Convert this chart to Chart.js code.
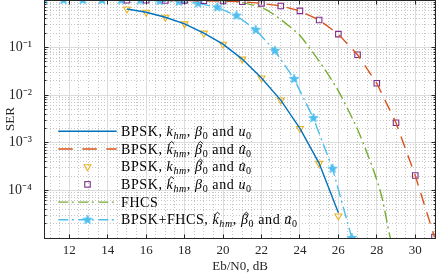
<!DOCTYPE html>
<html><head><meta charset="utf-8">
<style>html,body{margin:0;padding:0;background:#fff}#wrap{width:436px;height:273px;position:relative}</style>
<script src="https://cdn.jsdelivr.net/npm/chart.js@4.4.0/dist/chart.umd.min.js"></script>
</head><body><div id="wrap"><canvas id="c" width="436" height="273"></canvas></div>
<script>
// ---------- data ----------
const xTickValues = [12, 14, 16, 18, 20, 22, 24, 26, 28, 30];
const yTickValues = [1e-4, 1e-3, 1e-2, 1e-1];
const yTickLabels = ['10⁻⁴', '10⁻³', '10⁻²', '10⁻¹'];
const xTitle = 'Eb/N0, dB';
const yTitle = 'SER';

const snrBPSK = [15, 16, 17, 18, 19, 20, 21, 22, 23, 24, 25, 26];
const serBPSKTheory = [0.648, 0.552, 0.434, 0.315, 0.201, 0.118, 0.0574, 0.0230, 0.0079, 0.00200, 3.7e-4, 3.4e-5];
const serBPSKSim = [0.648, 0.552, 0.434, 0.315, 0.201, 0.118, 0.0574, 0.0230, 0.0079, 0.00200, 3.7e-4, 2.9e-5];

const snrEst = [15, 16, 17, 18, 19, 20, 21, 22, 23, 24, 25, 26, 27, 28, 29, 30, 31];
const serEstTheory = [0.99, 0.985, 0.98, 0.975, 0.965, 0.95, 0.92, 0.85, 0.75, 0.59, 0.38, 0.192, 0.0707, 0.0178, 0.00263, 2.05e-4, 1.05e-5];
const serEstSim = [0.99, 0.985, 0.98, 0.975, 0.965, 0.95, 0.92, 0.85, 0.75, 0.59, 0.38, 0.192, 0.0707, 0.0178, 0.00263, 2.05e-4, 1.05e-5];

const snrFHCS = [10.7, 12, 14, 16, 18, 19, 20, 20.5, 21, 21.5, 22, 22.5, 23, 23.5, 24, 24.5, 25, 25.5, 26, 26.5, 27, 27.5, 28, 28.3, 28.5, 28.75];
const serFHCS = [0.999, 0.999, 0.998, 0.996, 0.99, 0.982, 0.965, 0.935, 0.88, 0.79, 0.69, 0.54, 0.39, 0.27, 0.18, 0.098, 0.052, 0.026, 0.0123, 0.0050, 0.0019, 6.0e-4, 1.66e-4, 6.3e-5, 2.5e-5, 8e-6];

const snrComb = [10.7, 11.7, 12.7, 13.7, 14.7, 15.7, 16.7, 17.7, 18.7, 19.7, 20.7, 21.7, 22.7, 23.7, 24.7, 25.7, 26.7];
const serComb = [0.998, 0.997, 0.996, 0.994, 0.99, 0.98, 0.955, 0.92, 0.85, 0.70, 0.47, 0.236, 0.0857, 0.0219, 0.0033, 2.85e-4, 1.0e-5];

// legend labels as rich segments
const N = t => ({t}), I = (t, hat) => ({t, it: true, hat: !!hat}), S = (t, it) => ({t, sub: true, it: !!it});
const legendLabels = [
  [N('BPSK, '), I('k'), S('hm', 1), N(', '), I('β'), S('0'), N(' and '), I('u'), S('0')],
  [N('BPSK, '), I('k', 1), S('hm', 1), N(', '), I('β', 1), S('0'), N(' and '), I('u', 1), S('0')],
  [N('BPSK, '), I('k'), S('hm', 1), N(', '), I('β', 1), S('0'), N(' and '), I('u', 1), S('0')],
  [N('BPSK, '), I('k', 1), S('hm', 1), N(', '), I('β'), S('0'), N(' and '), I('u'), S('0')],
  [N('FHCS')],
  [N('BPSK+FHCS, '), I('k', 1), S('hm', 1), N(', '), I('β', 1), S('0'), N(' and '), I('u', 1), S('0')]
];

// ---------- styles ----------
const C = {blue:'#0072BD', red:'#D95319', yellow:'#EDB120', purple:'#7E2F8E', green:'#77AC30', cyan:'#4DBEEE'};
const AX = '#262626';
const FONT = '"Liberation Serif", "Times New Roman", serif';

function makeStar(r, color) {
  const s = Math.ceil(r * 2 + 2);
  const c = document.createElement('canvas'); c.width = s; c.height = s;
  const g = c.getContext('2d');
  g.translate(s / 2, s / 2);
  g.beginPath();
  for (let i = 0; i < 10; i++) {
    const rr = i % 2 ? r * 0.42 : r;
    const a = -Math.PI / 2 + i * Math.PI / 5;
    g.lineTo(rr * Math.cos(a), rr * Math.sin(a));
  }
  g.closePath(); g.fillStyle = color; g.fill();
  g.strokeStyle = color; g.lineWidth = 0.7; g.stroke();
  return c;
}
const starImg = makeStar(5, C.cyan);

const pts = (xs, ys) => xs.map((v, i) => ({x: v, y: ys[i]}));

const DASH_RED = [12, 8];
const DASH_DOT = [12, 4, 2, 4];

const datasets = [
  {data: pts(snrBPSK, serBPSKTheory), borderColor: C.blue, borderWidth: 1.4, pointRadius: 0, tension: 0},
  {data: pts(snrEst, serEstTheory), borderColor: C.red, borderWidth: 1.4, borderDash: DASH_RED, pointRadius: 0, tension: 0},
  {data: pts(snrBPSK, serBPSKSim), showLine: false, pointStyle: 'triangle', rotation: 180, pointRadius: 4,
   pointBorderColor: C.yellow, pointBackgroundColor: 'rgba(255,255,255,0)', pointBorderWidth: 1.1, borderColor: C.yellow},
  {data: pts(snrEst, serEstSim), showLine: false, pointStyle: 'rect', pointRadius: 3.9,
   pointBorderColor: C.purple, pointBackgroundColor: 'rgba(255,255,255,0)', pointBorderWidth: 1.1, borderColor: C.purple},
  {data: pts(snrFHCS, serFHCS), borderColor: C.green, borderWidth: 1.4, borderDash: DASH_DOT, pointRadius: 0, cubicInterpolationMode: 'monotone'},
  {data: pts(snrComb, serComb), borderColor: C.cyan, borderWidth: 1.4, borderDash: DASH_DOT, pointStyle: starImg, pointRadius: 5, tension: 0}
];

// ---------- grid / box / legend plugin ----------
function seg(ctx, x1, y1, x2, y2) { ctx.beginPath(); ctx.moveTo(x1, y1); ctx.lineTo(x2, y2); ctx.stroke(); }

const matlabPlugin = {
  id: 'matlabLook',
  beforeDatasetsDraw(chart) {
    const {ctx, chartArea: a, scales: {x, y}} = chart;
    ctx.save();
    ctx.beginPath(); ctx.rect(a.left, a.top, a.right - a.left, a.bottom - a.top); ctx.clip();
    ctx.lineWidth = 1;
    ctx.strokeStyle = '#c6c6c6'; ctx.setLineDash([1, 2]);
    for (let v = 11; v <= 31.001; v += 0.5) {
      if (xTickValues.includes(v)) continue;
      const px = Math.floor(x.getPixelForValue(v)) + 0.5;
      seg(ctx, px, a.top, px, a.bottom);
    }
    for (let e = -5; e < 0; e++) for (let k = 2; k <= 9; k++) {
      const py = Math.floor(y.getPixelForValue(k * Math.pow(10, e))) + 0.5;
      seg(ctx, a.left, py, a.right, py);
    }
    ctx.setLineDash([]); ctx.strokeStyle = '#dcdcdc';
    xTickValues.forEach(v => { const px = Math.floor(x.getPixelForValue(v)) + 0.5; seg(ctx, px, a.top, px, a.bottom); });
    for (let e = -4; e < 0; e++) { const py = Math.floor(y.getPixelForValue(Math.pow(10, e))) + 0.5; seg(ctx, a.left, py, a.right, py); }
    ctx.restore();
  },
  afterDatasetsDraw(chart) {
    const {ctx, chartArea: a, scales: {x, y}} = chart;
    ctx.save();
    ctx.strokeStyle = AX; ctx.lineWidth = 1; ctx.setLineDash([]);
    const L = a.left + 0.5, R = a.right - 0.5, T = a.top + 0.5, B = a.bottom + 0.5;
    xTickValues.forEach(v => {
      const px = Math.floor(x.getPixelForValue(v)) + 0.5;
      seg(ctx, px, B, px, B - 4); seg(ctx, px, T, px, T + 4);
    });
    for (let e = -5; e <= 0; e++) {
      const py = Math.floor(y.getPixelForValue(Math.pow(10, e))) + 0.5;
      seg(ctx, L, py, L + 4, py); seg(ctx, R, py, R - 4, py);
      if (e < 0) for (let k = 2; k <= 9; k++) {
        const q = Math.floor(y.getPixelForValue(k * Math.pow(10, e))) + 0.5;
        seg(ctx, L, q, L + 2, q); seg(ctx, R, q, R - 2, q);
      }
    }
    ctx.strokeRect(L, T, R - L, B - T);
    ctx.restore();
    drawLegend(ctx);
  }
};

function drawLegend(ctx) {
  const x0 = 58.3, x1 = 116.7, mx = 87.5, tx = 121, y0 = 131.3, dy = 17.7;
  const F = 14, FS = 10;
  const rows = [
    {color: C.blue, dash: [], line: true},
    {color: C.red, dash: [14.5, 9.5], line: true},
    {color: C.yellow, marker: 'tri'},
    {color: C.purple, marker: 'sq'},
    {color: C.green, dash: [10, 3.5, 2, 4.5], line: true},
    {color: C.cyan, dash: [10, 3.5, 2, 4.5], line: true, marker: 'star'}
  ];
  rows.forEach((r, i) => {
    const yy = y0 + i * dy;
    ctx.save();
    if (r.line) {
      ctx.strokeStyle = r.color; ctx.lineWidth = 1.4; ctx.setLineDash(r.dash);
      seg(ctx, x0, yy, x1, yy);
    }
    ctx.setLineDash([]);
    if (r.marker === 'tri') {
      ctx.strokeStyle = r.color; ctx.lineWidth = 1.1;
      const rr = 4;
      ctx.beginPath();
      ctx.moveTo(mx, yy + rr);
      ctx.lineTo(mx - rr * 0.866, yy - rr / 2);
      ctx.lineTo(mx + rr * 0.866, yy - rr / 2);
      ctx.closePath(); ctx.stroke();
    } else if (r.marker === 'sq') {
      ctx.strokeStyle = r.color; ctx.lineWidth = 1.1;
      const s = 3.9 * Math.SQRT1_2;
      ctx.strokeRect(mx - s, yy - s, 2 * s, 2 * s);
    } else if (r.marker === 'star') {
      ctx.drawImage(starImg, mx - starImg.width / 2, yy - starImg.height / 2);
    }
    ctx.restore();
    drawRich(ctx, tx, yy + 4.5, legendLabels[i], F, FS);
  });
}

function drawRich(ctx, x, base, segs, F, FS) {
  ctx.save();
  ctx.fillStyle = '#000'; ctx.strokeStyle = '#000';
  ctx.textBaseline = 'alphabetic'; ctx.textAlign = 'left';
  try { ctx.letterSpacing = '0.6px'; } catch (e) {}
  let cx = x;
  segs.forEach(s => {
    const size = s.sub ? FS : F;
    ctx.font = (s.it ? 'italic ' : '') + size + 'px ' + FONT;
    const yy = s.sub ? base + 3 : base;
    ctx.fillText(s.t, cx, yy);
    const w = ctx.measureText(s.t).width;
    if (s.hat) {
      const tall = (s.t === 'k' || s.t === 'β');
      const hx = cx + w / 2 + (tall ? 1.6 : 0.8);
      const ay = tall ? base - F * 0.86 : base - F * 0.6;
      ctx.lineWidth = 0.9;
      ctx.beginPath(); ctx.moveTo(hx - 2.4, ay + 2.2); ctx.lineTo(hx, ay); ctx.lineTo(hx + 2.4, ay + 2.2); ctx.stroke();
    }
    cx += w;
  });
  ctx.restore();
}

// ---------- chart ----------
new Chart(document.getElementById('c'), {
  type: 'line',
  data: {datasets},
  options: {
    responsive: false, animation: false, devicePixelRatio: 1,
    layout: {autoPadding: false, padding: {top: 0, right: 0, bottom: 0, left: 0}},
    plugins: {legend: {display: false}, tooltip: {enabled: false}},
    scales: {
      x: {
        type: 'linear', min: 10.684, max: 31.08,
        grid: {display: false}, border: {display: false},
        afterBuildTicks: s => { s.ticks = xTickValues.map(v => ({value: v})); },
        afterFit: s => { s.height = 35; s.paddingLeft = 0; s.paddingRight = 0; },
        ticks: {autoSkip: false, maxRotation: 0, padding: -3, color: AX,
          font: {family: FONT, size: 13}, callback: v => String(v)},
        title: {display: true, text: xTitle, color: AX, padding: {top: 0, bottom: 0},
          font: {family: FONT, size: 13, lineHeight: 1}}
      },
      y: {
        type: 'logarithmic', min: 1e-5, max: 1,
        grid: {display: false}, border: {display: false},
        afterBuildTicks: s => { s.ticks = yTickValues.map(v => ({value: v})); },
        afterFit: s => { s.width = 44; s.paddingTop = 0; s.paddingBottom = 0; },
        ticks: {autoSkip: false, padding: 4, color: AX, font: {family: FONT, size: 14},
          callback: v => { const i = yTickValues.findIndex(t => Math.abs(Math.log10(t) - Math.log10(v)) < 1e-6); return i >= 0 ? yTickLabels[i] : ''; }},
        title: {display: true, text: yTitle, color: AX, padding: {top: 3, bottom: 0},
          font: {family: FONT, size: 13}}
      }
    }
  },
  plugins: [matlabPlugin]
});
</script></body></html>
